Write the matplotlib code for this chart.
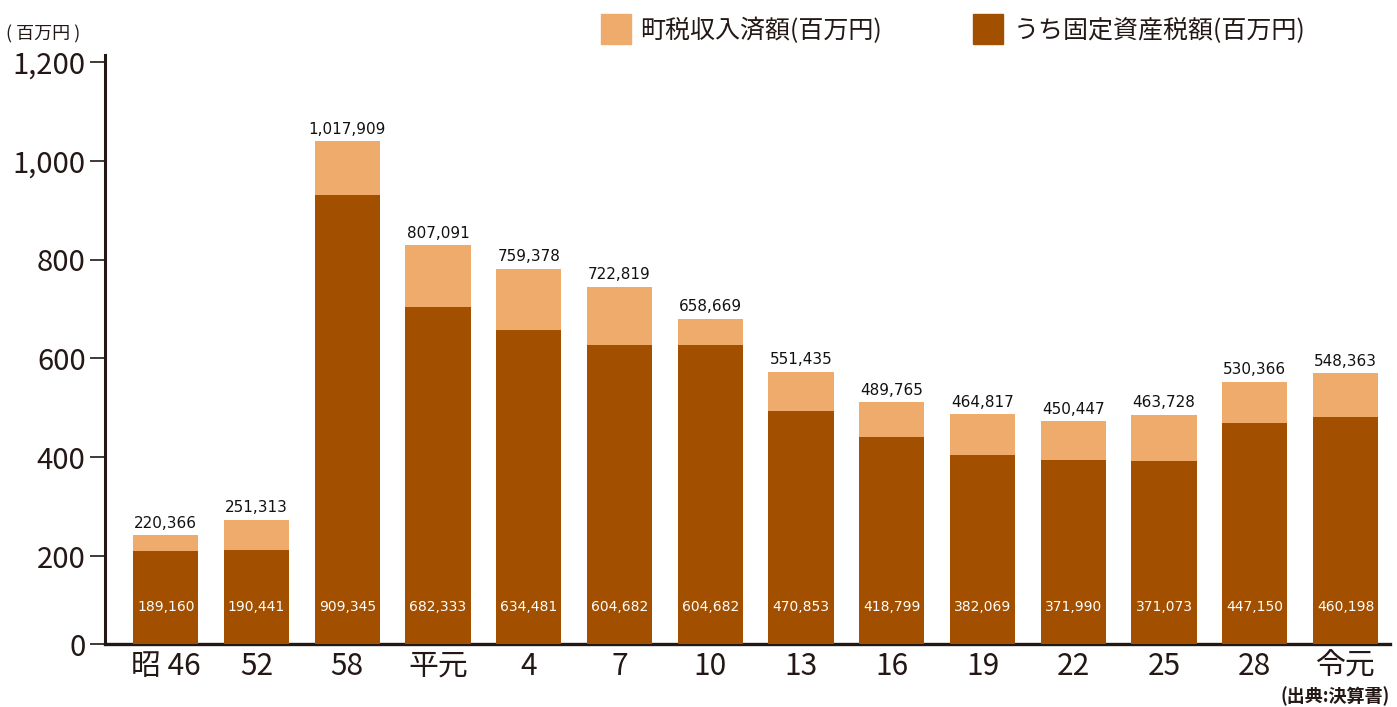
import numpy as np
import matplotlib
matplotlib.use("Agg")
import matplotlib.pyplot as plt
from matplotlib.patches import Rectangle

plt.rcParams['font.family'] = ['Noto Sans CJK JP', 'DejaVu Sans']

# data (values as printed; plotted in units of 1,000)
years = ['昭 46', '52', '58', '平元', '4', '7', '10', '13', '16', '19', '22', '25', '28', '令元']
town_tax = [220366, 251313, 1017909, 807091, 759378, 722819, 658669,
            551435, 489765, 464817, 450447, 463728, 530366, 548363]
property_tax = [189160, 190441, 909345, 682333, 634481, 604682, 604682,
                470853, 418799, 382069, 371990, 371073, 447150, 460198]
tick_values = [0, 200, 400, 600, 800, 1000, 1200]

LIGHT = '#EFAB6B'
DARK = '#A34F00'
INK = '#231815'

total = np.array(town_tax) / 1000
fixed = np.array(property_tax) / 1000
x = np.arange(len(years))

fig = plt.figure(figsize=(13.97, 7.07), dpi=100)
ax = fig.add_axes([105 / 1397, 63 / 707, 1285 / 1397, 589 / 707])

ax.bar(x, total, width=0.72, color=LIGHT, zorder=2)
ax.bar(x, fixed, width=0.72, color=DARK, zorder=3)

for xi, t, tl, fl in zip(x, total, town_tax, property_tax):
    ax.text(xi, t + 9, f'{tl:,}', ha='center', va='bottom', fontsize=11,
            family='DejaVu Sans', color='#111111', zorder=4)
    ax.text(xi, 75, f'{fl:,}', ha='center', va='center', fontsize=10,
            family='DejaVu Sans', color='white', zorder=4)

ax.set_xlim(-0.67, len(years) - 0.51)
ax.set_ylim(0, 1192)

# the printed scale sits slightly off the baseline
offset = 22
ax.set_yticks([0] + [v - offset for v in tick_values[1:]])
ax.set_yticklabels([f'{v:,}' for v in tick_values], fontsize=21, color=INK)
ax.set_xticks(x)
ax.set_xticklabels(years, fontsize=21.5, color=INK)
ax.tick_params(axis='x', length=0, pad=5)
ax.tick_params(axis='y', length=11, width=1.2, color=INK, pad=3)

for s in ['top', 'right']:
    ax.spines[s].set_visible(False)
ax.spines['left'].set_linewidth(2.2)
ax.spines['left'].set_color(INK)
ax.spines['bottom'].set_linewidth(2.4)
ax.spines['bottom'].set_color(INK)

# unit and source
fig.text(6 / 1397, 1 - 34 / 707, '( 百万円 )', fontsize=13, color=INK, va='center', ha='left')
fig.text(1390 / 1397, 1 - 696 / 707, '(出典:決算書)', fontsize=13, fontweight='bold',
         color=INK, va='center', ha='right')

# legend
for lx, tx, col, label in [(601, 640, LIGHT, '町税収入済額(百万円)'),
                           (973, 1014, DARK, 'うち固定資産税額(百万円)')]:
    fig.patches.append(Rectangle((lx / 1397, 1 - 44 / 707), 30 / 1397, 30 / 707,
                                 transform=fig.transFigure, color=col))
    fig.text(tx / 1397, 1 - 31 / 707, label, fontsize=18, color=INK,
             va='center', ha='left')

fig.savefig('out.png', dpi=100)
